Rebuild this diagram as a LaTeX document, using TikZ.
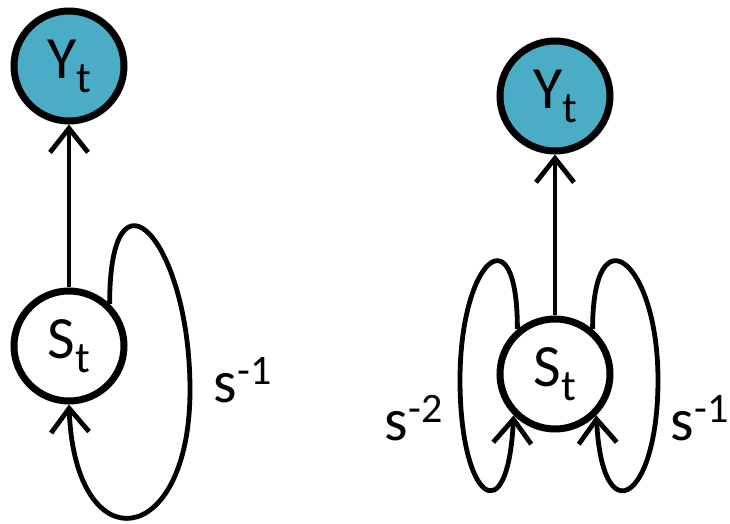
\documentclass[tikz,border=0pt]{standalone}
\usepackage{fontspec}
\setmainfont{Carlito}
\usetikzlibrary{positioning, arrows.meta}
\definecolor{obsblue}{HTML}{4BACC6}
\newcommand{\lowidx}[1]{\raisebox{-7pt}{\fontsize{22}{26}\selectfont #1}}

\begin{document}
\begin{tikzpicture}[x=0.5pt, y=-0.5pt, node distance=140pt, on grid,
    var/.style={draw, circle, line width=3.5pt, minimum size=55pt, inner sep=0pt,
        font=\fontsize{30}{36}\selectfont},
    obs/.style={var, fill=obsblue},
    lbl/.style={font=\fontsize{30}{36}\selectfont},
    link/.style={line width=2.4pt, -{Straight Barb[length=12pt, width=19pt]}}]
        \useasboundingbox (0,0) rectangle (730,524);

        % first order
        \node[var] (s1) at (69,346) {S\lowidx{t}};
        \node[obs, above=of s1] (y1) {Y\lowidx{t}};
        \coordinate (r1) at (190,390);
        \node[lbl] (k1) at (243,380) {s\textsuperscript{-1}};

        % second order
        \node[var] (s2) at (555,374) {S\lowidx{t}};
        \node[obs, above=139pt of s2] (y2) {Y\lowidx{t}};
        \coordinate (r2) at (460,380);
        \coordinate (r3) at (658,380);
        \node[lbl] (k2) at (414,418) {s\textsuperscript{-2}};
        \node[lbl] (k3) at (700,418) {s\textsuperscript{-1}};

        \draw[link] (s1) -- (y1);
        \draw[link] (s2) -- (y2);
        \draw[link] (s1.46) .. controls +(0,-150) and +(0,-150) .. (r1)
            .. controls +(0,160) and +(6,160) .. (s1.-90);
        \draw[link] (s2.130) .. controls +(0,-120) and +(0,-120) .. (r2)
            .. controls +(0,120) and +(-6,120) .. (s2.-135);
        \draw[link] (s2.50) .. controls +(0,-120) and +(0,-120) .. (r3)
            .. controls +(0,120) and +(6,120) .. (s2.-45);
    \end{tikzpicture}
\end{document}
